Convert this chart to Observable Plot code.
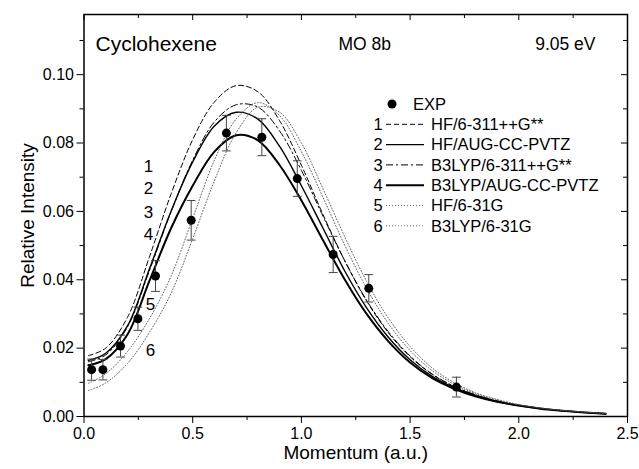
<!DOCTYPE html>
<html><head><meta charset="utf-8">
<script src="https://cdn.jsdelivr.net/npm/d3@7"></script>
<script src="https://cdn.jsdelivr.net/npm/@observablehq/plot@0.6"></script>
<style>body{margin:0;background:#fff} svg{display:block}</style>
</head><body><div id="chart"></div>
<script>
// ---- data ----
const momentum = [0.02,0.1,0.2,0.3,0.4,0.5,0.6,0.7,0.8,0.9,1.0,1.1,1.2,1.3,1.4,1.5,1.6,1.7,1.8,1.9,2.0,2.1,2.2,2.3,2.4];
const hf6311     = [0.0178,0.0200,0.0290,0.0465,0.0650,0.0810,0.0920,0.0968,0.0950,0.0865,0.0735,0.0590,0.0455,0.0338,0.0245,0.0175,0.0124,0.0088,0.0063,0.0045,0.0033,0.0024,0.0017,0.0012,0.0008];
const hfAug      = [0.0164,0.0185,0.0265,0.0430,0.0600,0.0745,0.0850,0.0890,0.0870,0.0790,0.0675,0.0550,0.0425,0.0318,0.0232,0.0166,0.0118,0.0085,0.0061,0.0044,0.0032,0.0023,0.0017,0.0012,0.0008];
const b3lyp6311  = [0.0160,0.0180,0.0262,0.0425,0.0598,0.0750,0.0862,0.0912,0.0905,0.0835,0.0720,0.0585,0.0455,0.0340,0.0248,0.0177,0.0125,0.0089,0.0064,0.0046,0.0033,0.0024,0.0017,0.0012,0.0008];
const b3lypAug   = [0.0150,0.0168,0.0240,0.0395,0.0550,0.0675,0.0775,0.0823,0.0808,0.0735,0.0632,0.0515,0.0400,0.0300,0.0220,0.0158,0.0113,0.0082,0.0059,0.0043,0.0032,0.0023,0.0017,0.0012,0.0008];
const hf631      = [0.0097,0.0125,0.0190,0.0285,0.0410,0.0580,0.0750,0.0870,0.0918,0.0880,0.0775,0.0640,0.0500,0.0375,0.0272,0.0193,0.0135,0.0095,0.0067,0.0048,0.0034,0.0025,0.0018,0.0013,0.0009];
const b3lyp631   = [0.0076,0.0098,0.0155,0.0245,0.0360,0.0520,0.0690,0.0830,0.0905,0.0890,0.0800,0.0665,0.0525,0.0395,0.0288,0.0205,0.0143,0.0100,0.0070,0.0050,0.0035,0.0025,0.0018,0.0013,0.0009];
const seriesNames = ["HF/6-311++G**","HF/AUG-CC-PVTZ","B3LYP/6-311++G**","B3LYP/AUG-CC-PVTZ","HF/6-31G","B3LYP/6-31G"];
const seriesValues = [hf6311, hfAug, b3lyp6311, b3lypAug, hf631, b3lyp631];

const expX   = [0.035,0.087,0.168,0.248,0.329,0.493,0.655,0.818,0.981,1.146,1.310,1.713];
const expY   = [0.0137,0.0137,0.0206,0.0286,0.0411,0.0574,0.0829,0.0817,0.0696,0.0474,0.0375,0.0086];
const expErr = [0.0031,0.0030,0.0032,0.0034,0.0045,0.0058,0.0052,0.0054,0.0052,0.0053,0.0040,0.0029];

const xTicks = [0,0.5,1.0,1.5,2.0,2.5];
const xMinor = [0.25,0.75,1.25,1.75,2.25];
const yTicks = [0,0.02,0.04,0.06,0.08,0.10];
const yMinor = [0.01,0.03,0.05,0.07,0.09,0.11];

const curveLabelText = ["1","2","3","4","5","6"];
const curveLabelX = [0.297,0.297,0.297,0.297,0.306,0.306];
const curveLabelY = [0.0732,0.0667,0.0597,0.0533,0.0328,0.0193];

// ---- styles ----
const styles = [
  {stroke:"#000", strokeWidth:1,   dash:"5,3"},
  {stroke:"#000", strokeWidth:1.4, dash:null},
  {stroke:"#000", strokeWidth:1,   dash:"7,3,2,3"},
  {stroke:"#000", strokeWidth:2,   dash:null},
  {stroke:"#555", strokeWidth:0.9, dash:"1,2"},
  {stroke:"#555", strokeWidth:0.9, dash:"1,2"}
];

const W = 639, H = 469;
const mL = 83.5, mR = 12, mT = 14, mB = 53;
const pw = W - mL - mR, ph = H - mT - mB;

const exp = expX.map((x, i) => ({x, y: expY[i], lo: expY[i] - expErr[i], hi: expY[i] + expErr[i]}));
const capShape = {draw(c, l) { c.moveTo(0, 0); c.lineTo(0, -l); }};

const lineMarks = seriesValues.map((vals, k) => Plot.line(
  momentum.map((x, i) => ({x, y: vals[i]})),
  {x: "x", y: "y", curve: "catmull-rom", stroke: styles[k].stroke, strokeWidth: styles[k].strokeWidth,
   strokeDasharray: styles[k].dash || undefined}
));

const font = "Liberation Sans, Arial, Helvetica, sans-serif";

const plot = Plot.plot({
  width: W, height: H,
  marginLeft: mL, marginRight: mR, marginTop: mT, marginBottom: mB,
  style: {fontFamily: font, fontSize: "16px", background: "#fff", color: "#000"},
  x: {domain: [0, 2.5]},
  y: {domain: [0, 0.1176]},
  marks: [
    ...lineMarks,
    Plot.ruleX(exp, {x: "x", y1: "lo", y2: "hi", stroke: "#444", strokeWidth: 1}),
    Plot.vector(exp, {x: "x", y: "lo", length: 8, rotate: 90, anchor: "middle", shape: capShape, stroke: "#444", strokeWidth: 1}),
    Plot.vector(exp, {x: "x", y: "hi", length: 8, rotate: 90, anchor: "middle", shape: capShape, stroke: "#444", strokeWidth: 1}),
    Plot.dot(exp, {x: "x", y: "y", r: 4.5, fill: "#000"}),
    Plot.text(curveLabelText, {x: (d, i) => curveLabelX[i], y: (d, i) => curveLabelY[i], text: d => d, fontSize: 17, fill: "#000"}),
    Plot.axisX({ticks: xTicks, tickFormat: d => d.toFixed(1), tickSize: 7, tickPadding: 4, fontSize: 16,
      label: "Momentum (a.u.)", labelAnchor: "center", labelArrow: "none", labelOffset: 42}),
    Plot.axisX({ticks: xMinor, tickFormat: () => "", tickSize: 4, label: null}),
    Plot.axisY({ticks: yTicks, tickFormat: d => d.toFixed(2), tickSize: 7, tickPadding: 3, fontSize: 16,
      label: "Relative Intensity", labelAnchor: "center", labelArrow: "none", labelOffset: 64}),
    Plot.axisY({ticks: yMinor, tickFormat: () => "", tickSize: 4, label: null}),
    Plot.tickX(xTicks, {x: d => d, insetBottom: ph - 6, stroke: "#000"}),
    Plot.tickX(xMinor, {x: d => d, insetBottom: ph - 4, stroke: "#000"}),
    Plot.tickY(yTicks, {y: d => d, insetLeft: pw - 6, stroke: "#000"}),
    Plot.tickY(yMinor, {y: d => d, insetLeft: pw - 4, stroke: "#000"}),
    Plot.frame({stroke: "#000", strokeWidth: 1.5}),
    Plot.text(["Cyclohexene"], {frameAnchor: "top-left", dx: 11.5, dy: 30, textAnchor: "start", lineAnchor: "middle", fontSize: 21, fill: "#000"}),
    Plot.text(["MO 8b"], {frameAnchor: "top-left", dx: 254.5, dy: 30, textAnchor: "start", lineAnchor: "middle", fontSize: 17.5, fill: "#000"}),
    Plot.text(["9.05 eV"], {frameAnchor: "top-right", dx: -32, dy: 30, textAnchor: "end", lineAnchor: "middle", fontSize: 17.5, fill: "#000"})
  ]
});

// axis title sizes
d3.select(plot).selectAll("g[aria-label='x-axis label'] text, g[aria-label='y-axis label'] text").attr("font-size", 19);

// ---- legend (inside plot) ----
const svg = d3.select(plot);
const lg = svg.append("g").attr("font-family", font).attr("font-size", 16.5).attr("fill", "#000").attr("text-anchor", "start");
const rowY0 = 104, rowDy = 20.3;
lg.append("circle").attr("cx", 392).attr("cy", rowY0).attr("r", 4.5).attr("fill", "#000");
lg.append("text").attr("x", 413).attr("y", rowY0).attr("dy", "0.35em").text("EXP");
seriesNames.forEach((name, k) => {
  const y = rowY0 + rowDy * (k + 1);
  lg.append("text").attr("x", 378).attr("y", y).attr("dy", "0.35em").attr("text-anchor", "middle").text(String(k + 1));
  lg.append("line").attr("x1", 386).attr("x2", 424).attr("y1", y).attr("y2", y)
    .attr("stroke", styles[k].stroke).attr("stroke-width", styles[k].strokeWidth)
    .attr("stroke-dasharray", styles[k].dash);
  lg.append("text").attr("x", 431).attr("y", y).attr("dy", "0.35em").text(name);
});

document.getElementById("chart").appendChild(plot);
</script>
</body></html>
